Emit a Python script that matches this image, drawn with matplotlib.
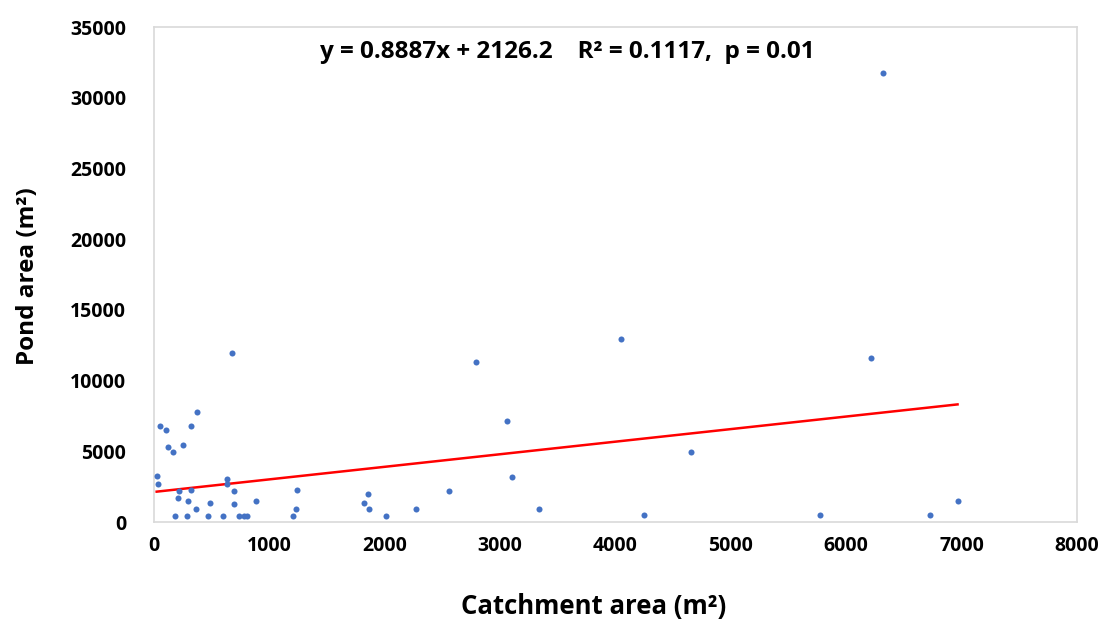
import matplotlib
matplotlib.use("Agg")
import matplotlib.pyplot as plt
import numpy as np

# Catchment area (m2) and pond area (m2) for each surveyed pond
catchment_area = [23, 37, 52, 101, 121, 168, 179, 211, 217, 248, 286, 298, 321, 324,
                  361, 373, 471, 488, 601, 633, 636, 673, 690, 690, 734, 783, 809, 881,
                  1202, 1231, 1237, 1820, 1855, 1866, 2013, 2271, 2560, 2788, 3062, 3105,
                  3339, 4047, 4250, 4657, 5772, 6211, 6321, 6725, 6965]
pond_area = [3274, 2665, 6788, 6526, 5280, 4972, 447, 1720, 2192, 5420, 447, 1508, 6788, 2263,
             919, 7778, 447, 1367, 447, 2687, 3016, 11950, 2169, 1296, 447, 447, 447, 1508,
             447, 919, 2263, 1343, 1956, 919, 447, 919, 2213, 11290, 7141, 3203,
             919, 12962, 474, 4971, 474, 11596, 31770, 474, 1508]

# Linear trend line coefficients
slope = 0.8887
intercept = 2126.2
equation_text = "y = 0.8887x + 2126.2    R² = 0.1117,  p = 0.01"

x_ticks = [0, 1000, 2000, 3000, 4000, 5000, 6000, 7000, 8000]
y_ticks = [0, 5000, 10000, 15000, 20000, 25000, 30000, 35000]

plt.rcParams['font.family'] = ['Open Sans', 'DejaVu Sans']

fig = plt.figure(figsize=(11.04, 6.21), dpi=100)
ax = fig.add_axes([0.1395, 0.1594, 0.836, 0.7971])

ax.scatter(catchment_area, pond_area, s=19, color="#4472C4", zorder=3, linewidths=0)

xs = np.array([min(catchment_area), max(catchment_area)])
ax.plot(xs, slope * xs + intercept, color="#FF0000", linewidth=1.8, zorder=2)

ax.set_xlim(0, 8000)
ax.set_ylim(0, 35000)
ax.set_xticks(x_ticks)
ax.set_yticks(y_ticks)
ax.set_xticklabels([str(t) for t in x_ticks], fontsize=14, fontweight="bold")
ax.set_yticklabels([str(t) for t in y_ticks], fontsize=14, fontweight="bold")
ax.tick_params(axis="both", length=0)
ax.tick_params(axis="x", pad=10)
ax.tick_params(axis="y", pad=20)

for spine in ax.spines.values():
    spine.set_color("#D9D9D9")
    spine.set_linewidth(1.2)

ax.set_xlabel("Catchment area (m²)", fontsize=18.5, fontweight="bold")
ax.xaxis.set_label_coords(0.476, -0.143)
ax.set_ylabel("Pond area (m²)", fontsize=17.5, fontweight="bold")
ax.yaxis.set_label_coords(-0.1235, 0.497)

ax.text(0.448, 0.95, equation_text, transform=ax.transAxes, ha="center", va="center",
        fontsize=17.5, fontweight="bold")

fig.savefig("out.png", dpi=100)
